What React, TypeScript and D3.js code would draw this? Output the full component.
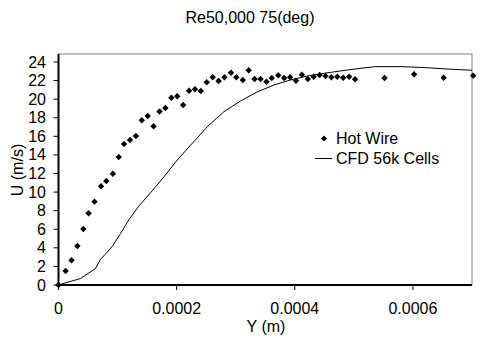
import React from "react";
import * as d3 from "d3";

const title = "Re50,000 75(deg)";
const xLabel = "Y (m)";
const yLabel = "U (m/s)";
const seriesNames = ["Hot Wire", "CFD 56k Cells"];

const xTicks = [0, 0.0002, 0.0004, 0.0006];
const xTickLabels = ["0", "0.0002", "0.0004", "0.0006"];
const yTicks = [0, 2, 4, 6, 8, 10, 12, 14, 16, 18, 20, 22, 24];

const hotWireY = [
  0, 0.000012, 0.000022, 0.000032, 0.000042, 0.000051, 0.000061, 0.000072, 0.000081, 0.000092,
  0.000102, 0.000111, 0.000121, 0.000131, 0.000141, 0.000151, 0.000161, 0.000171, 0.000181,
  0.000191, 0.000201, 0.000211, 0.000221, 0.000231, 0.000241, 0.000251, 0.000261, 0.000271,
  0.000281, 0.000292, 0.000301, 0.000312, 0.000322, 0.000332, 0.000342, 0.000352, 0.000361,
  0.000372, 0.000382, 0.000392, 0.000402, 0.000412, 0.000422, 0.000432, 0.000442, 0.000452,
  0.000462, 0.000472, 0.000482, 0.000492, 0.000502, 0.000552, 0.000602, 0.000652, 0.000702,
];
const hotWireU = [
  0, 1.51, 2.66, 4.2, 6.03, 7.72, 8.97, 10.62, 11.19, 11.98,
  13.78, 15.18, 15.61, 16.04, 17.73, 18.19, 17.08, 18.68, 19.05,
  20.16, 20.31, 19.38, 20.91, 21.07, 20.88, 21.82, 22.36, 21.96,
  22.36, 22.85, 22.36, 22.07, 23.11, 22.17, 22.17, 21.88, 22.28,
  22.57, 22.28, 22.36, 21.99, 22.64, 22.17, 22.42, 22.6, 22.5,
  22.36, 22.42, 22.31, 22.42, 22.14, 22.28, 22.68, 22.31, 22.53,
];

const cfdY = [
  0, 0.0000373, 0.0000627, 0.0000712, 0.0000797, 0.0000915, 0.000105, 0.000119, 0.000136,
  0.000156, 0.000178, 0.000201, 0.000224, 0.000252, 0.00028, 0.000308, 0.000337, 0.000365,
  0.000393, 0.000422, 0.00045, 0.000478, 0.000512, 0.000537, 0.00058, 0.000622, 0.000664, 0.0007,
];
const cfdU = [
  0, 0.7, 1.78, 2.77, 3.34, 4.2, 5.54, 7.0, 8.5,
  9.94, 11.6, 13.45, 15.07, 17.04, 18.65, 19.8, 20.8, 21.53,
  22.07, 22.5, 22.79, 23.04, 23.33, 23.5, 23.5, 23.39, 23.22, 23.11,
];

const W = 499;
const H = 339;
const left = 58.5;
const right = 472;
const top = 54;
const bottom = 285;

export default function App() {
  const x = d3.scaleLinear().domain([0, 0.0007]).range([left, right]);
  const y = d3.scaleLinear().domain([0, 24]).range([bottom, 62]);
  const font = "'Liberation Sans', Arial, sans-serif";
  const fs = 16;
  const line = d3
    .line<number>()
    .x((_, i) => x(cfdY[i]))
    .y((d) => y(d));
  const diamond = (cx: number, cy: number, r = 3.2) =>
    `M${cx},${cy - r}L${cx + r},${cy}L${cx},${cy + r}L${cx - r},${cy}Z`;

  return (
    <svg
      width={W}
      height={H}
      style={{ position: "absolute", left: 0, top: 0, background: "#fff" }}
      fontFamily={font}
    >
      <rect x={0} y={0} width={W} height={H} fill="#fff" />
      <text x={250} y={23} textAnchor="middle" fontSize={fs} fill="#000">
        {title}
      </text>
      {/* plot frame */}
      <rect x={left} y={top} width={right - left} height={bottom - top} fill="none" stroke="#808080" strokeWidth={1} />
      {/* data */}
      <path d={line(cfdU) || ""} fill="none" stroke="#000" strokeWidth={1} />
      {hotWireU.map((u, i) => (
        <path key={i} d={diamond(x(hotWireY[i]), y(u))} fill="#000" />
      ))}
      {/* axes */}
      <line x1={left} x2={left} y1={top} y2={bottom + 1} stroke="#000" strokeWidth={2} />
      <line x1={left - 1} x2={right} y1={bottom} y2={bottom} stroke="#000" strokeWidth={2} />
      {yTicks.map((t) => (
        <g key={t}>
          <line x1={left - 5} x2={left} y1={y(t)} y2={y(t)} stroke="#000" strokeWidth={1} />
          <text x={46} y={y(t) + 5.5} textAnchor="end" fontSize={fs} fill="#000">
            {t}
          </text>
        </g>
      ))}
      {xTicks.map((t, i) => (
        <g key={t}>
          <line x1={x(t)} x2={x(t)} y1={bottom} y2={bottom + 5} stroke="#000" strokeWidth={1} />
          <text x={x(t)} y={314} textAnchor="middle" fontSize={fs} fill="#000">
            {xTickLabels[i]}
          </text>
        </g>
      ))}
      <text x={266} y={332} textAnchor="middle" fontSize={fs} fill="#000">
        {xLabel}
      </text>
      <text
        transform={`translate(23,170) rotate(-90)`}
        textAnchor="middle"
        fontSize={fs}
        fill="#000"
      >
        {yLabel}
      </text>
      {/* legend */}
      <path d={diamond(324, 138.5, 3)} fill="#000" />
      <text x={336} y={144} fontSize={fs} fill="#000">
        {seriesNames[0]}
      </text>
      <line x1={315} x2={332} y1={158.5} y2={158.5} stroke="#000" strokeWidth={1} />
      <text x={336} y={164} fontSize={fs} fill="#000">
        {seriesNames[1]}
      </text>
    </svg>
  );
}
